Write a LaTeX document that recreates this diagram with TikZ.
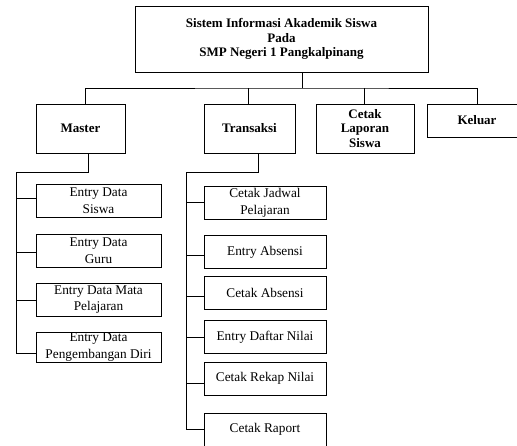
\documentclass[tikz,border=0pt]{standalone}
\usepackage{fontspec}
\setmainfont{Liberation Serif}
\usetikzlibrary{calc}
\begin{document}
\begin{tikzpicture}[x=1pt,y=-1pt,
  menu/.style={draw,line width=0.8pt,font=\bfseries\fontsize{13}{14.5}\selectfont,align=center,inner sep=0pt,minimum height=49},
  item/.style={draw,line width=0.7pt,font=\fontsize{13.3}{16.5}\selectfont,align=center,inner sep=0pt,minimum height=33},
  link/.style={line width=0.7pt}]
\useasboundingbox (0,0) rectangle (517,445);
\clip (0,0) rectangle (517,445);
% level 0
\node[menu,minimum width=293,minimum height=66] (top) at (281.5,39) {Sistem Informasi Akademik Siswa\\Pada\\SMP Negeri 1 Pangkalpinang};
% level 1
\node[menu,minimum width=89] (master) at (80.5,128.5) {Master};
\node[menu,minimum width=91] (trans) at (249.5,128.5) {Transaksi};
\node[menu,minimum width=98] (lap) at (365,128.5) {Cetak\\Laporan\\Siswa};
\node[menu,minimum width=100,minimum height=33] (keluar) at (477,120.5) {Keluar};
\coordinate (bus) at (302,88);
\draw[link] (bus |- top.south) -- (bus);
\draw[link] ($(master.north)+(4.5,0)$) |- (bus) -| (keluar.north);
\draw[link] ($(trans.north)+(-1.5,0)$) -- ++(0,-16);
\draw[link] ($(lap.north)+(-1,0)$) -- ++(0,-16);
% master
\node[item,minimum width=125] (siswa) at (98.5,200.5) {Entry Data\\Siswa};
\node[item,minimum width=125] (guru) at (98.5,250.5) {Entry Data\\Guru};
\node[item,minimum width=125] (mata) at (98.5,299.5) {Entry Data Mata\\Pelajaran};
\node[item,minimum width=125,minimum height=30] (peng) at (98.5,347) {Entry Data\\Pengembangan Diri};
\coordinate (mtrunk) at (16,172);
\draw[link] ($(master.south)+(7.5,0)$) |- (mtrunk) |- ($(peng.west)+(0,6)$);
\foreach \n/\d in {siswa/-2.5,guru/1.5,mata/0.5}
  \draw[link] ($(mtrunk |- \n.west)+(0,\d)$) -- ($(\n.west)+(0,\d)$);
% transaksi
\node[item,minimum width=122] (jadwal) at (265,203) {Cetak Jadwal\\Pelajaran};
\node[item,minimum width=122] (eabs) at (265,252) {Entry Absensi};
\node[item,minimum width=122] (cabs) at (265,293) {Cetak Absensi};
\node[item,minimum width=122] (daftar) at (265,337) {Entry Daftar Nilai};
\node[item,minimum width=122] (rekap) at (265,378.5) {Cetak Rekap Nilai};
\node[item,minimum width=122] (raport) at (265,429.5) {Cetak Raport};
\coordinate (ttrunk) at (186,172);
\draw[link] ($(trans.south)+(8.5,0)$) |- (ttrunk) |- (raport.west);
\foreach \n/\d in {jadwal/-1,eabs/3,cabs/3,daftar/0,rekap/4.5}
  \draw[link] ($(ttrunk |- \n.west)+(0,\d)$) -- ($(\n.west)+(0,\d)$);
\end{tikzpicture}
\end{document}
